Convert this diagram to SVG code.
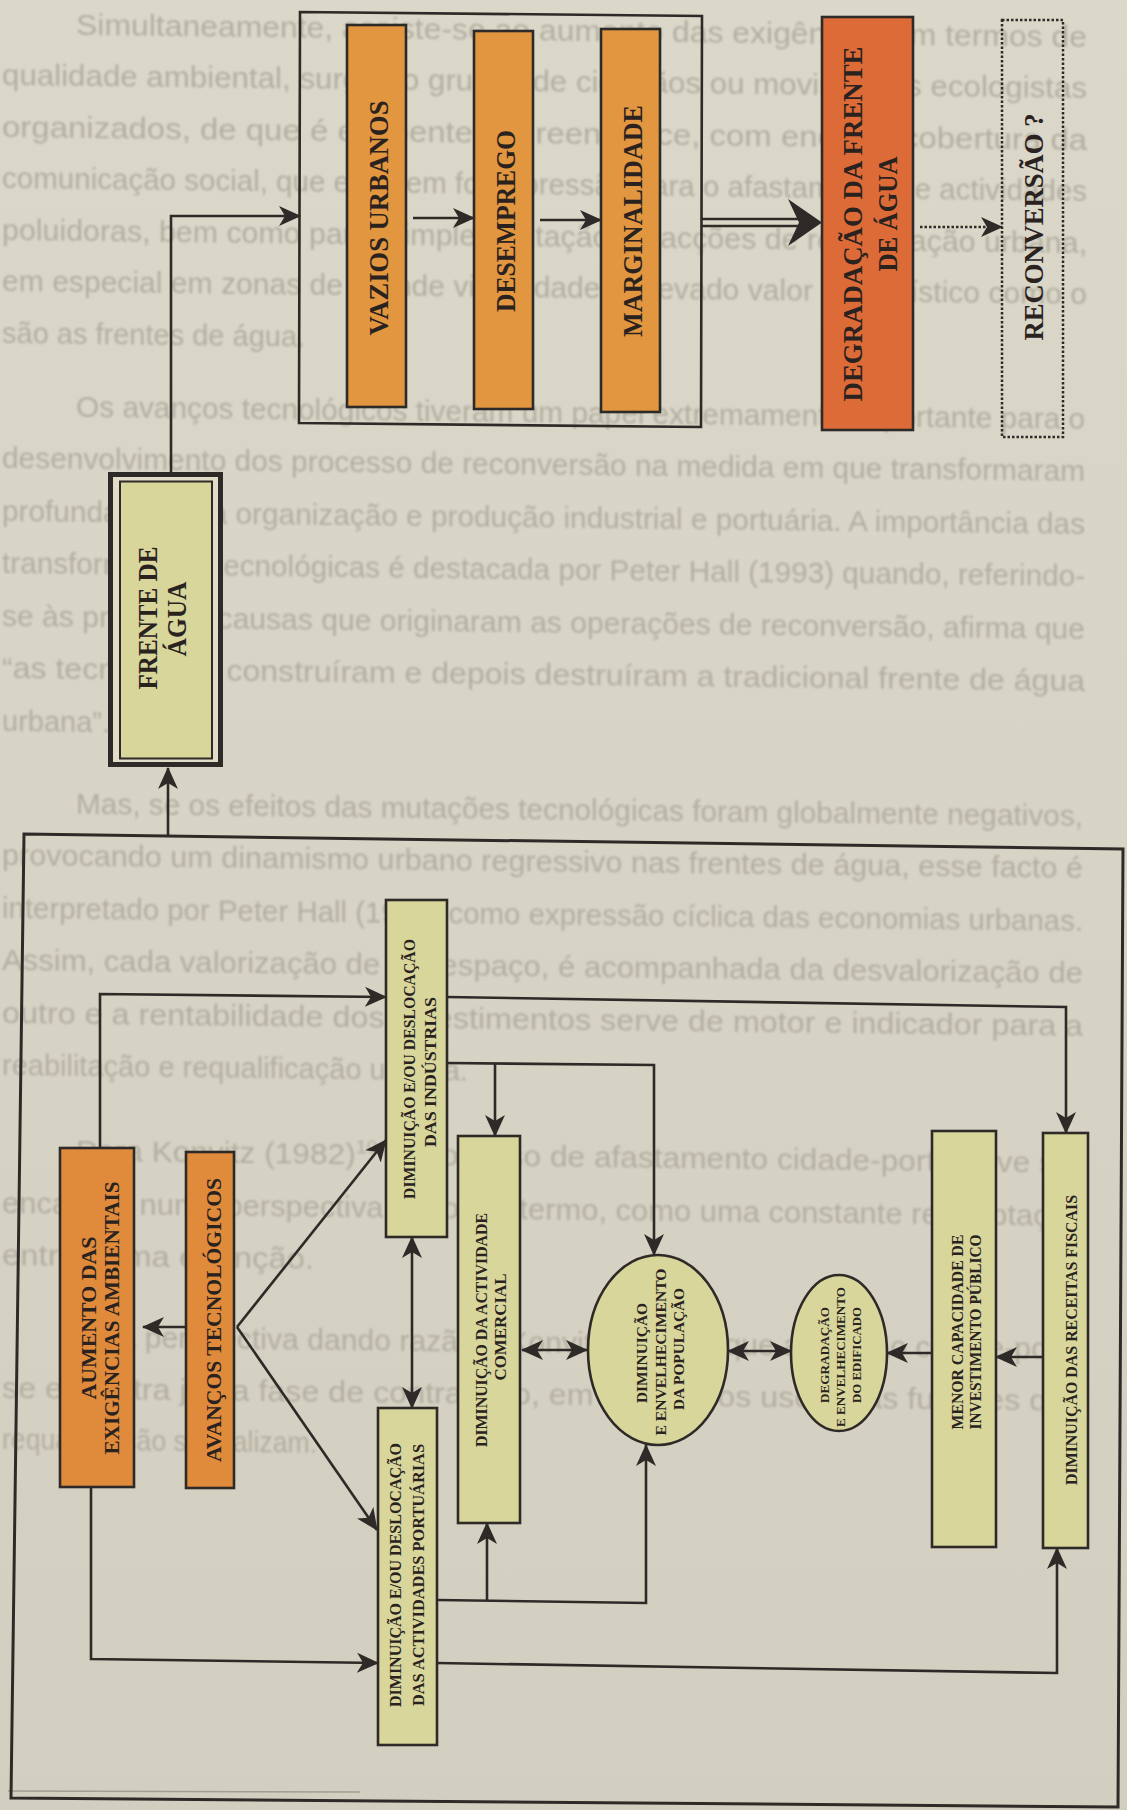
<svg xmlns="http://www.w3.org/2000/svg" width="1127" height="1810" viewBox="0 0 1127 1810">
<defs>
  <linearGradient id="paper" x1="0" y1="0" x2="0" y2="1">
    <stop offset="0" stop-color="#dbd8ca"/>
    <stop offset="1" stop-color="#d3cfc0"/>
  </linearGradient>
  <filter id="soft" x="-2%" y="-2%" width="104%" height="104%">
    <feGaussianBlur stdDeviation="0.9"/>
  </filter>
  <marker id="ah" viewBox="0 0 22 20" refX="21" refY="10" markerWidth="22" markerHeight="20" markerUnits="userSpaceOnUse" orient="auto-start-reverse">
    <path d="M0,0 L22,10 L0,20 L6,10 z" fill="#2e2a27"/>
  </marker>
  <style>
    .page-text { font-family: "Liberation Sans", Arial, sans-serif; font-size: 29px; fill: #b2aea0; }
    .lbl { font-family: "Liberation Serif", "Times New Roman", serif; font-weight: bold; fill: #2a221f; text-anchor: middle; }
    .wire { fill: none; stroke: #2e2a27; stroke-width: 2.6; }
    .arrow { marker-end: url(#ah); }
    .both { marker-start: url(#ah); marker-end: url(#ah); }
    .edge { stroke: #2e2a27; stroke-width: 2.6; }
    .orange { fill: #e2963f; }
    .amber { fill: #e08b3c; }
    .red { fill: #dc6b37; }
    .olive { fill: #d8d69b; }
    .dotted { fill: none; stroke: #2e2a27; stroke-width: 2.5; stroke-dasharray: 2.5 2; }
  </style>
</defs>

<!-- paper -->
<rect x="0" y="0" width="1127" height="1810" fill="url(#paper)"/>

<!-- running text of the page, printed under the figure -->
<g id="page-text" class="page-text" filter="url(#soft)" transform="matrix(1 0.012 0 1 0 -6)">
  <text x="76" y="40" textLength="1011" lengthAdjust="spacingAndGlyphs">Simultaneamente, assiste-se ao aumento das exigências em termos de</text>
  <text x="2" y="91.5" textLength="1085" lengthAdjust="spacingAndGlyphs">qualidade ambiental, surgindo grupos de cidadãos ou movimentos ecologistas</text>
  <text x="2" y="143" textLength="1085" lengthAdjust="spacingAndGlyphs">organizados, de que é expoente a Greenpeace, com enorme cobertura da</text>
  <text x="2" y="194.5" textLength="1085" lengthAdjust="spacingAndGlyphs">comunicação social, que exercem forte pressão para o afastamento de actividades</text>
  <text x="2" y="246" textLength="1085" lengthAdjust="spacingAndGlyphs">poluidoras, bem como para a implementação de acções de revitalização urbana,</text>
  <text x="2" y="297.5" textLength="1085" lengthAdjust="spacingAndGlyphs">em especial em zonas de grande visibilidade e elevado valor paisagístico como o</text>
  <text x="2" y="349">são as frentes de água.</text>

  <text x="76" y="422" textLength="1009" lengthAdjust="spacingAndGlyphs">Os avanços tecnológicos tiveram um papel extremamente importante para o</text>
  <text x="2" y="474.5" textLength="1083" lengthAdjust="spacingAndGlyphs">desenvolvimento dos processo de reconversão na medida em que transformaram</text>
  <text x="2" y="527" textLength="1083" lengthAdjust="spacingAndGlyphs">profundamente a organização e produção industrial e portuária. A importância das</text>
  <text x="2" y="579.5" textLength="1083" lengthAdjust="spacingAndGlyphs">transformações tecnológicas é destacada por Peter Hall (1993) quando, referindo-</text>
  <text x="2" y="632" textLength="1083" lengthAdjust="spacingAndGlyphs">se às principais causas que originaram as operações de reconversão, afirma que</text>
  <text x="2" y="684.5" textLength="1083" lengthAdjust="spacingAndGlyphs">“as tecnologias construíram e depois destruíram a tradicional frente de água</text>
  <text x="2" y="737">urbana”.</text>

  <text x="76" y="819" textLength="1007" lengthAdjust="spacingAndGlyphs">Mas, se os efeitos das mutações tecnológicas foram globalmente negativos,</text>
  <text x="2" y="871.5" textLength="1081" lengthAdjust="spacingAndGlyphs">provocando um dinamismo urbano regressivo nas frentes de água, esse facto é</text>
  <text x="2" y="924" textLength="1081" lengthAdjust="spacingAndGlyphs">interpretado por Peter Hall (1993) como expressão cíclica das economias urbanas.</text>
  <text x="2" y="976.5" textLength="1081" lengthAdjust="spacingAndGlyphs">Assim, cada valorização de um espaço, é acompanhada da desvalorização de</text>
  <text x="2" y="1029" textLength="1081" lengthAdjust="spacingAndGlyphs">outro e a rentabilidade dos investimentos serve de motor e indicador para a</text>
  <text x="2" y="1081.5">reabilitação e requalificação urbana.</text>

  <text x="76" y="1166" textLength="1007" lengthAdjust="spacingAndGlyphs">Para Konvitz (1982)<tspan font-size="18" dy="-11">10</tspan><tspan dy="11"> o processo de afastamento cidade-porto deve ser</tspan></text>
  <text x="2" y="1219" textLength="1081" lengthAdjust="spacingAndGlyphs">encarado numa perspectiva de longo termo, como uma constante readaptação</text>
  <text x="2" y="1271" textLength="312" lengthAdjust="spacingAndGlyphs">entre forma e função.</text>

  <text x="76" y="1352" textLength="1007" lengthAdjust="spacingAndGlyphs">Esta perspectiva dando razão a Konvitz, mostra que a relação cidade-porto</text>
  <text x="2" y="1404" textLength="1081" lengthAdjust="spacingAndGlyphs">se encontra já na fase de contracção, em que novos usos e as funções que</text>
  <text x="2" y="1455" textLength="315" lengthAdjust="spacingAndGlyphs">requalificação se realizam.</text>
</g>
<line x1="8" y1="1791" x2="360" y2="1792" stroke="#a29e90" stroke-width="1.5"/>

<!-- outer frame of the lower block -->
<polygon id="frame" points="24,834 1123,849 1118,1807 11,1798" fill="none" stroke="#2e2a27" stroke-width="3"/>

<!-- upper chain -->
<g id="cadeia">
  <polygon points="300,12 702,16 701,427 299,423" fill="none" class="edge"/>
</g>
<g id="vazios-urbanos">
  <rect x="347" y="25" width="59" height="382" class="orange edge"/>
  <text class="lbl" font-size="28" transform="translate(388,218) rotate(-90)" textLength="235" lengthAdjust="spacingAndGlyphs">VAZIOS URBANOS</text>
</g>
<g id="desemprego">
  <rect x="474" y="31" width="59" height="378" class="orange edge"/>
  <text class="lbl" font-size="28" transform="translate(515,221) rotate(-90)" textLength="182" lengthAdjust="spacingAndGlyphs">DESEMPREGO</text>
</g>
<g id="marginalidade">
  <rect x="601" y="29" width="59" height="383" class="orange edge"/>
  <text class="lbl" font-size="28" transform="translate(642,221) rotate(-90)" textLength="232" lengthAdjust="spacingAndGlyphs">MARGINALIDADE</text>
</g>
<g id="degradacao-frente">
  <rect x="822" y="17" width="91" height="413" class="red edge"/>
  <text class="lbl" font-size="28" transform="translate(862,224) rotate(-90)" textLength="355" lengthAdjust="spacingAndGlyphs">DEGRADAÇÃO DA FRENTE</text>
  <text class="lbl" font-size="28" transform="translate(897,214) rotate(-90)" textLength="115" lengthAdjust="spacingAndGlyphs">DE ÁGUA</text>
</g>
<g id="reconversao">
  <rect x="1002" y="20" width="61" height="417" class="dotted"/>
  <text class="lbl" font-size="28" transform="translate(1043,227) rotate(-90)" textLength="227" lengthAdjust="spacingAndGlyphs">RECONVERSÃO ?</text>
</g>
<g id="frente-agua">
  <rect x="110.5" y="474.5" width="110" height="290" fill="#e1ddc9" stroke="#2e2a27" stroke-width="5"/>
  <rect x="120" y="481.5" width="92" height="277" class="olive" stroke="#2e2a27" stroke-width="2"/>
  <text class="lbl" font-size="28" transform="translate(157,618) rotate(-90)" textLength="143" lengthAdjust="spacingAndGlyphs">FRENTE DE</text>
  <text class="lbl" font-size="28" transform="translate(186,619) rotate(-90)" textLength="75" lengthAdjust="spacingAndGlyphs">ÁGUA</text>
</g>

<!-- lower block -->
<g id="exigencias-ambientais">
  <rect x="60" y="1148" width="74" height="339" class="amber edge"/>
  <text class="lbl" font-size="22" transform="translate(96,1318) rotate(-90)" textLength="163" lengthAdjust="spacingAndGlyphs">AUMENTO DAS</text>
  <text class="lbl" font-size="22" transform="translate(119,1318) rotate(-90)" textLength="273" lengthAdjust="spacingAndGlyphs">EXIGÊNCIAS AMBIENTAIS</text>
</g>
<g id="avancos-tecnologicos">
  <rect x="186" y="1152" width="48" height="336" class="amber edge"/>
  <text class="lbl" font-size="22" transform="translate(221,1320) rotate(-90)" textLength="284" lengthAdjust="spacingAndGlyphs">AVANÇOS TECNOLÓGICOS</text>
</g>
<g id="industrias">
  <rect x="386" y="900" width="61" height="337" class="olive edge"/>
  <text class="lbl" font-size="16" transform="translate(415,1069) rotate(-90)" textLength="260" lengthAdjust="spacingAndGlyphs">DIMINUIÇÃO E/OU DESLOCAÇÃO</text>
  <text class="lbl" font-size="16" transform="translate(436,1072) rotate(-90)" textLength="150" lengthAdjust="spacingAndGlyphs">DAS INDÚSTRIAS</text>
</g>
<g id="portuarias">
  <rect x="378" y="1408" width="59" height="337" class="olive edge"/>
  <text class="lbl" font-size="16" transform="translate(401,1575) rotate(-90)" textLength="264" lengthAdjust="spacingAndGlyphs">DIMINUIÇÃO E/OU DESLOCAÇÃO</text>
  <text class="lbl" font-size="16" transform="translate(424,1575) rotate(-90)" textLength="262" lengthAdjust="spacingAndGlyphs">DAS ACTIVIDADES PORTUÁRIAS</text>
</g>
<g id="comercial">
  <rect x="458" y="1136" width="62" height="387" class="olive edge"/>
  <text class="lbl" font-size="16" transform="translate(487,1330) rotate(-90)" textLength="234" lengthAdjust="spacingAndGlyphs">DIMINUIÇÃO DA ACTIVIDADE</text>
  <text class="lbl" font-size="16" transform="translate(506,1327) rotate(-90)" textLength="107" lengthAdjust="spacingAndGlyphs">COMERCIAL</text>
</g>
<g id="populacao">
  <ellipse cx="658" cy="1350" rx="70" ry="95" class="olive edge"/>
  <text class="lbl" font-size="15" transform="translate(647,1353) rotate(-90)" textLength="100" lengthAdjust="spacingAndGlyphs">DIMINUIÇÃO</text>
  <text class="lbl" font-size="15" transform="translate(666,1352) rotate(-90)" textLength="167" lengthAdjust="spacingAndGlyphs">E ENVELHECIMENTO</text>
  <text class="lbl" font-size="15" transform="translate(684,1349) rotate(-90)" textLength="122" lengthAdjust="spacingAndGlyphs">DA POPULAÇÃO</text>
</g>
<g id="edificado">
  <ellipse cx="839" cy="1353" rx="48" ry="78" class="olive edge"/>
  <text class="lbl" font-size="12" transform="translate(829,1355) rotate(-90)" textLength="96" lengthAdjust="spacingAndGlyphs">DEGRADAÇÃO</text>
  <text class="lbl" font-size="12" transform="translate(845,1357) rotate(-90)" textLength="140" lengthAdjust="spacingAndGlyphs">E ENVELHECIMENTO</text>
  <text class="lbl" font-size="12" transform="translate(861,1355) rotate(-90)" textLength="96" lengthAdjust="spacingAndGlyphs">DO EDIFICADO</text>
</g>
<g id="investimento-publico">
  <rect x="932" y="1131" width="64" height="416" class="olive edge"/>
  <text class="lbl" font-size="16" transform="translate(963,1332) rotate(-90)" textLength="195" lengthAdjust="spacingAndGlyphs">MENOR CAPACIDADE DE</text>
  <text class="lbl" font-size="16" transform="translate(981,1332) rotate(-90)" textLength="195" lengthAdjust="spacingAndGlyphs">INVESTIMENTO PÚBLICO</text>
</g>
<g id="receitas-fiscais">
  <rect x="1043" y="1133" width="45" height="415" class="olive edge"/>
  <text class="lbl" font-size="17" transform="translate(1077,1340) rotate(-90)" textLength="290" lengthAdjust="spacingAndGlyphs">DIMINUIÇÃO DAS RECEITAS FISCAIS</text>
</g>

<!-- connectors -->
<g id="connectors">
  <path class="wire arrow" d="M171,472 V216 H300"/>
  <path class="wire arrow" d="M413,218 H474"/>
  <path class="wire arrow" d="M540,220 H601"/>
  <path class="wire" d="M702,219 H800 M702,226 H800"/>
  <path d="M822,222.5 L788,199 L799,222.5 L788,246 z" fill="#2e2a27"/>
  <path class="wire arrow" d="M920,227 H1002" stroke-dasharray="2.5 2"/>

  <path class="wire arrow" d="M168,836 V768"/>
  <path class="wire arrow" d="M186,1327 H143"/>
  <path class="wire arrow" d="M237,1327 L386,1140"/>
  <path class="wire arrow" d="M237,1327 L377,1530"/>
  <path class="wire arrow" d="M100,1148 V994 L386,997"/>
  <path class="wire arrow" d="M91,1487 V1659 L378,1663"/>
  <path class="wire both" d="M412,1237 V1408"/>
  <path class="wire arrow" d="M447,1063 L654,1065 V1255"/>
  <path class="wire arrow" d="M495,1064 V1136"/>
  <path class="wire arrow" d="M447,997 L1066,1007 V1133"/>
  <path class="wire arrow" d="M437,1600 L646,1603 V1445"/>
  <path class="wire arrow" d="M487,1601 V1523"/>
  <path class="wire arrow" d="M437,1663 L1057,1673 V1548"/>
  <path class="wire both" d="M522,1350 H587"/>
  <path class="wire both" d="M728,1351 H791"/>
  <path class="wire arrow" d="M932,1353 H887"/>
  <path class="wire arrow" d="M1043,1357 H996"/>
</g>
</svg>
